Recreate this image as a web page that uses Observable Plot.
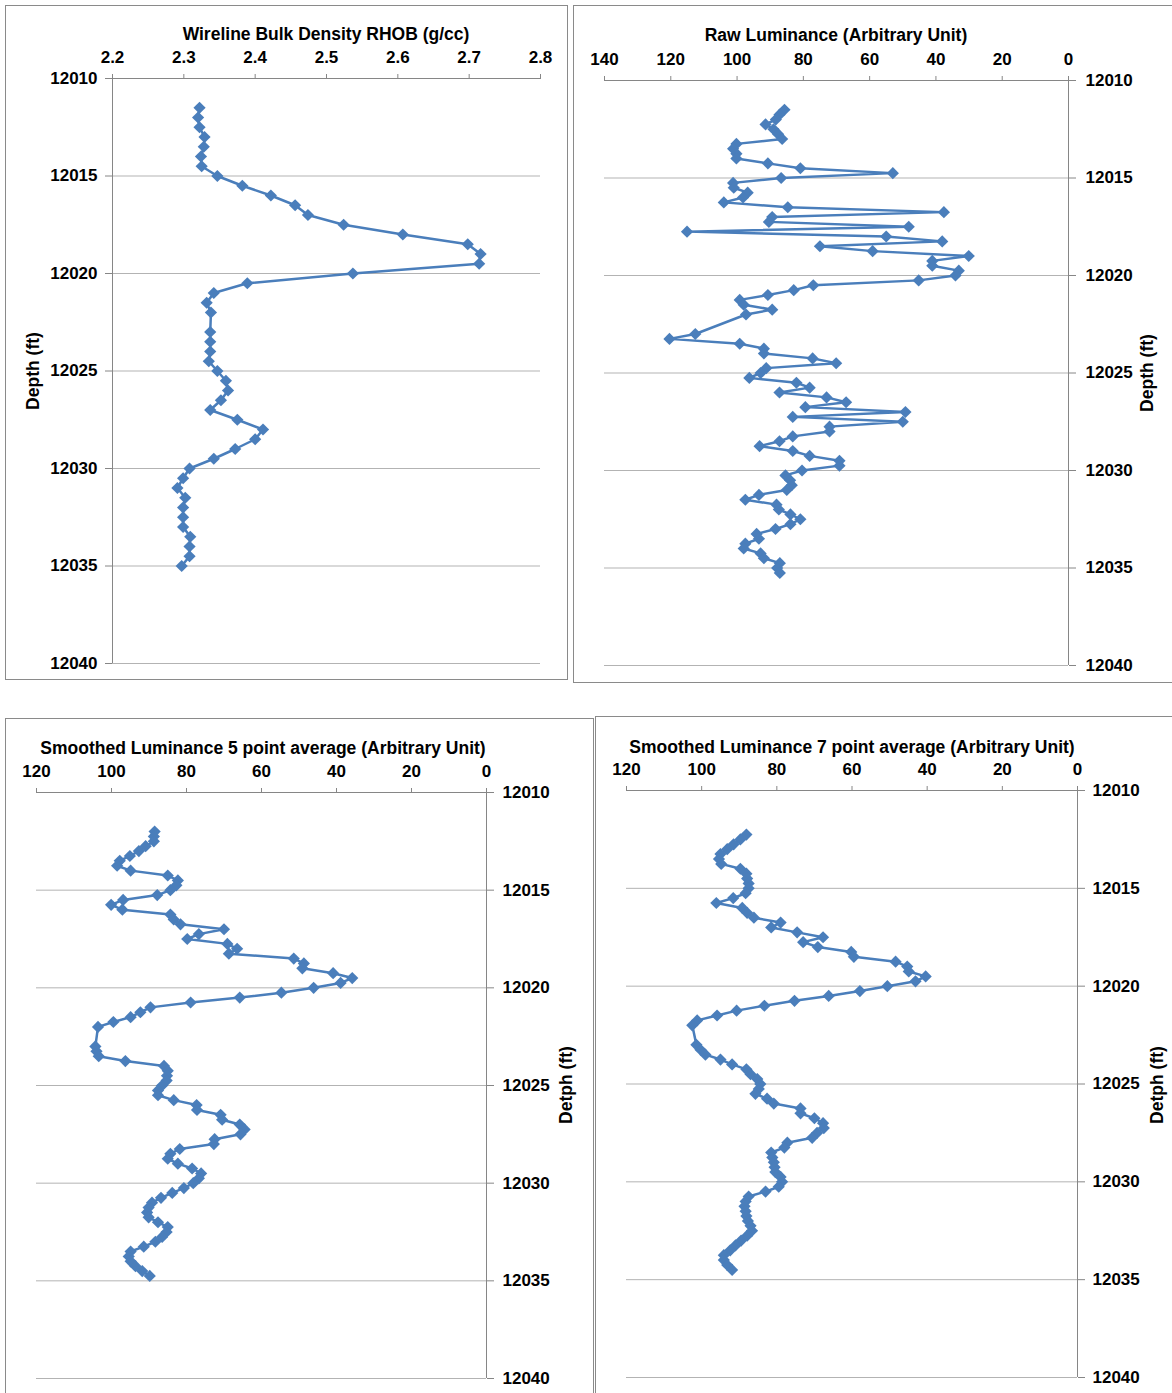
<!DOCTYPE html>
<html>
<head>
<meta charset="utf-8">
<script src="https://cdn.jsdelivr.net/npm/d3@7"></script>
<script src="https://cdn.jsdelivr.net/npm/@observablehq/plot@0.6"></script>
<style>
  html, body { margin: 0; padding: 0; background: #fff; }
  #page { position: relative; width: 1172px; height: 1393px; overflow: hidden; background: #fff;
          font-family: "Liberation Sans", Arial, sans-serif; }
  .box { position: absolute; border: 1.5px solid #8a8a8a; box-sizing: border-box; }
  .lbl { position: absolute; font-weight: bold; font-size: 17.5px; color: #000; white-space: pre;
         transform: translate(-50%, -50%); }
  .rot { transform: translate(-50%, -50%) rotate(-90deg); }
  svg.panel { position: absolute; left: 0; top: 0; overflow: visible; }
</style>
</head>
<body>
<div id="page"></div>
<script>
// ---------- data ----------
const depthTicks = [12010, 12015, 12020, 12025, 12030, 12035, 12040];
const rhobTicks = [2.2, 2.3, 2.4, 2.5, 2.6, 2.7, 2.8];
const rawTicks = [140, 120, 100, 80, 60, 40, 20, 0];
const smoothTicks = [120, 100, 80, 60, 40, 20, 0];

const titles = [
  "Wireline Bulk Density RHOB (g/cc)",
  "Raw Luminance (Arbitrary Unit)",
  "Smoothed Luminance 5 point average (Arbitrary Unit)",
  "Smoothed Luminance 7 point average (Arbitrary Unit)"
];
const depthLabels = ["Depth (ft)", "Depth (ft)", "Detph (ft)", "Detph (ft)"];

const rhobDepth = [12011.5, 12012, 12012.5, 12013, 12013.5, 12014, 12014.5, 12015, 12015.5, 12016, 12016.5, 12017,
  12017.5, 12018, 12018.5, 12019, 12019.5, 12020, 12020.5, 12021, 12021.5, 12022, 12023, 12023.5, 12024, 12024.5,
  12025, 12025.5, 12026, 12026.5, 12027, 12027.5, 12028, 12028.5, 12029, 12029.5, 12030, 12030.5, 12031, 12031.5,
  12032, 12032.5, 12033, 12033.5, 12034, 12034.5, 12035];
const rhobValue = [2.322, 2.320, 2.322, 2.329, 2.328, 2.324, 2.325, 2.347, 2.382, 2.422, 2.456, 2.474,
  2.524, 2.607, 2.698, 2.716, 2.714, 2.537, 2.389, 2.342, 2.332, 2.338, 2.337, 2.337, 2.337, 2.335,
  2.347, 2.359, 2.362, 2.352, 2.337, 2.375, 2.411, 2.400, 2.372, 2.342, 2.308, 2.299, 2.291, 2.302,
  2.299, 2.299, 2.299, 2.309, 2.308, 2.308, 2.297];

const rawDepth = [12011.5, 12011.75, 12012, 12012.25, 12012.5, 12012.75, 12013, 12013.25, 12013.5, 12013.75,
  12014, 12014.25, 12014.5, 12014.75, 12015, 12015.25, 12015.5, 12015.75, 12016, 12016.25,
  12016.5, 12016.75, 12017, 12017.25, 12017.5, 12017.75, 12018, 12018.25, 12018.5, 12018.75,
  12019, 12019.25, 12019.5, 12019.75, 12020, 12020.25, 12020.5, 12020.75, 12021, 12021.25,
  12021.5, 12021.75, 12022,
  12023, 12023.25, 12023.5, 12023.75, 12024, 12024.25, 12024.5,
  12024.75, 12025, 12025.25, 12025.5, 12025.75, 12026, 12026.25, 12026.5, 12026.75, 12027,
  12027.25, 12027.5, 12027.75, 12028, 12028.25, 12028.5, 12028.75, 12029, 12029.25, 12029.5,
  12029.75, 12030, 12030.25, 12030.5, 12030.75, 12031, 12031.25, 12031.5, 12031.75, 12032,
  12032.25, 12032.5, 12032.75, 12033, 12033.25, 12033.5, 12033.75, 12034, 12034.25, 12034.5,
  12034.75, 12035, 12035.25];
const rawValue = [85.7, 87.2, 88.3, 91.4, 89.0, 87.6, 86.4, 100.2, 101.2, 100.2,
  100.2, 90.7, 80.9, 53.0, 86.7, 101.2, 101.0, 96.8, 98.2, 104.0,
  84.7, 37.6, 89.4, 90.4, 48.2, 115.1, 55.0, 38.1, 75.0, 59.1,
  30.1, 41.1, 41.1, 33.1, 34.1, 45.2, 77.0, 82.9, 90.7, 99.2,
  98.0, 89.4, 97.3,
  112.6, 120.4, 99.2, 91.9, 91.9, 77.2, 70.1,
  91.2, 92.9, 96.3, 82.1, 78.1, 87.2, 73.0, 67.1, 79.4, 49.2,
  83.2, 50.0, 72.1, 72.1, 83.2, 87.2, 93.2, 83.2, 78.1, 69.1,
  69.1, 80.4, 85.4, 84.0, 83.5, 85.0, 93.4, 97.5, 88.1, 87.4,
  83.9, 80.9, 83.9, 88.4, 94.1, 93.4, 97.5, 98.0, 92.9, 91.9,
  87.1, 87.9, 87.1];

const avg5Depth = [12012, 12012.25, 12012.5, 12012.75, 12013, 12013.25, 12013.5, 12013.75, 12014, 12014.25,
  12014.5, 12014.75, 12015, 12015.25, 12015.5, 12015.75, 12016, 12016.25, 12016.5, 12016.75,
  12017, 12017.25, 12017.5, 12017.75, 12018, 12018.25, 12018.5, 12018.75, 12019, 12019.25,
  12019.5, 12019.75, 12020, 12020.25, 12020.5, 12020.75, 12021, 12021.25, 12021.5, 12021.75,
  12022,
  12023, 12023.25, 12023.5, 12023.75, 12024, 12024.25, 12024.5, 12024.75, 12025, 12025.25,
  12025.5, 12025.75, 12026, 12026.25, 12026.5, 12026.75, 12027, 12027.25, 12027.5, 12027.75,
  12028, 12028.25, 12028.5, 12028.75, 12029, 12029.25, 12029.5, 12029.75, 12030, 12030.25,
  12030.5, 12030.75, 12031, 12031.25, 12031.5, 12031.75, 12032, 12032.25, 12032.5, 12032.75,
  12033, 12033.25, 12033.5, 12033.75, 12034, 12034.25, 12034.5, 12034.75];
const avg5Value = [88.5, 88.7, 88.7, 90.9, 92.7, 95.1, 97.8, 98.5, 94.9, 85.0,
  82.3, 82.7, 84.3, 87.8, 96.9, 100.1, 97.1, 84.3, 83.4, 81.6,
  70.0, 76.7, 79.8, 69.1, 66.5, 68.7, 51.4, 48.7, 49.1, 40.9,
  35.8, 38.9, 46.1, 54.7, 65.8, 78.9, 89.6, 92.3, 94.9, 99.5,
  103.6,
  104.3, 104.0, 103.4, 96.3, 86.0, 85.0, 85.2, 85.3, 86.5, 87.6,
  87.6, 83.4, 77.3, 77.2, 70.9, 70.5, 65.8, 64.5, 65.6, 72.5,
  72.7, 81.8, 84.3, 85.0, 82.3, 78.5, 76.1, 76.7, 78.2, 80.7,
  83.8, 86.8, 89.2, 90.1, 90.5, 90.1, 87.6, 85.0, 85.3, 86.5,
  88.3, 91.4, 94.9, 95.4, 94.9, 93.6, 91.8, 89.8];

const avg7Depth = [12012.25, 12012.5, 12012.75, 12013, 12013.25, 12013.5, 12013.75, 12014, 12014.25, 12014.5,
  12014.75, 12015, 12015.25, 12015.5, 12015.75, 12016, 12016.25, 12016.5, 12016.75, 12017,
  12017.25, 12017.5, 12017.75, 12018, 12018.25, 12018.5, 12018.75, 12019, 12019.25, 12019.5,
  12019.75, 12020, 12020.25, 12020.5, 12020.75, 12021, 12021.25, 12021.5, 12021.75, 12022,
  12023, 12023.25, 12023.5, 12023.75, 12024, 12024.25, 12024.5, 12024.75, 12025, 12025.25,
  12025.5, 12025.75, 12026, 12026.25, 12026.5, 12026.75, 12027, 12027.25, 12027.5, 12027.75,
  12028, 12028.25, 12028.5, 12028.75, 12029, 12029.25, 12029.5, 12029.75, 12030, 12030.25,
  12030.5, 12030.75, 12031, 12031.25, 12031.5, 12031.75, 12032, 12032.25, 12032.5, 12032.75,
  12033, 12033.25, 12033.5, 12033.75, 12034, 12034.25, 12034.5];
const avg7Value = [88.1, 89.7, 91.5, 93.2, 95.0, 95.4, 94.8, 89.7, 88.1, 87.9,
  87.5, 87.5, 88.3, 91.6, 96.1, 89.2, 87.9, 86.1, 79.0, 81.5,
  74.6, 67.7, 73.0, 69.1, 60.2, 59.5, 48.4, 45.3, 44.9, 40.4,
  43.1, 50.6, 57.9, 66.2, 75.3, 83.3, 90.7, 95.9, 101.2, 102.5,
  101.4, 100.3, 99.0, 95.0, 91.9, 88.1, 87.0, 85.2, 84.4, 84.8,
  85.7, 82.6, 80.8, 73.7, 73.7, 70.0, 67.7, 67.5, 69.3, 70.6,
  77.2, 78.0, 81.5, 81.2, 80.8, 80.6, 80.4, 79.0, 78.6, 79.5,
  83.0, 87.5, 88.3, 88.6, 88.3, 88.1, 87.7, 87.0, 86.6, 87.9,
  89.5, 91.0, 92.4, 94.1, 94.1, 93.2, 91.9];

// ---------- layout ----------
const W = 1172, H = 1393;
const blue = "#4a7ebb", axisColor = "#868686", gridColor = "#b3b3b3";
const page = document.getElementById("page");

function addBox(l, t, w, h) {
  const d = document.createElement("div");
  d.className = "box";
  Object.assign(d.style, {left: l + "px", top: t + "px", width: w + "px", height: h + "px"});
  page.appendChild(d);
}
function addLabel(text, cx, cy, rotate) {
  const d = document.createElement("div");
  d.className = "lbl" + (rotate ? " rot" : "");
  d.textContent = text;
  Object.assign(d.style, {left: cx + "px", top: cy + "px"});
  page.appendChild(d);
}

addBox(5, 5, 563, 675);
addBox(573, 5, 640, 678);
addBox(5, 718, 589, 720);
addBox(595, 716, 640, 720);

function panel(cfg) {
  const data = cfg.depth.map((d, i) => ({d, v: cfg.value[i]}));
  const a = cfg.area;
  const svg = Plot.plot({
    width: W, height: H,
    marginLeft: a.left, marginRight: W - a.right, marginTop: a.top, marginBottom: H - a.bottom,
    x: {domain: cfg.xDomain, reverse: cfg.reverse},
    y: {domain: [12010, 12040], reverse: true},
    style: {fontFamily: "'Liberation Sans', Arial, sans-serif", fontSize: "17px", fontWeight: "bold", color: "#000", background: "transparent", overflow: "visible"},
    marks: [
      Plot.ruleY(depthTicks.slice(1), {stroke: gridColor, strokeWidth: 1}),
      Plot.ruleY([depthTicks[0]], {stroke: axisColor, strokeWidth: 1}),
      Plot.ruleX([cfg.yAxisAt], {stroke: axisColor, strokeWidth: 1}),
      Plot.axisX({anchor: "top", ticks: cfg.xTicks, tickFormat: cfg.xFormat, tickSize: 5, tickPadding: 11,
                  stroke: axisColor, fill: "#000", label: null}),
      Plot.axisY({anchor: cfg.yAnchor, ticks: depthTicks, tickFormat: d3.format("d"), tickSize: 7,
                  tickPadding: cfg.yPad, stroke: axisColor, fill: "#000", label: null}),
      Plot.line(data, {x: "v", y: "d", stroke: blue, strokeWidth: 2.5}),
      Plot.dot(data, {x: "v", y: "d", symbol: "diamond2", r: 5.5, fill: blue, stroke: "none"})
    ]
  });
  svg.classList.add("panel");
  page.appendChild(svg);
}

panel({depth: rhobDepth, value: rhobValue, xDomain: [2.2, 2.8], reverse: false, xTicks: rhobTicks,
       xFormat: d3.format(".1f"), yAnchor: "left", yAxisAt: 2.2, yPad: 8,
       area: {left: 112, right: 540, top: 78, bottom: 663}});
panel({depth: rawDepth, value: rawValue, xDomain: [0, 140], reverse: true, xTicks: rawTicks,
       xFormat: d3.format("d"), yAnchor: "right", yAxisAt: 0, yPad: 10,
       area: {left: 604, right: 1068, top: 80, bottom: 665}});
panel({depth: avg5Depth, value: avg5Value, xDomain: [0, 120], reverse: true, xTicks: smoothTicks,
       xFormat: d3.format("d"), yAnchor: "right", yAxisAt: 0, yPad: 9,
       area: {left: 36, right: 486, top: 792, bottom: 1378}});
panel({depth: avg7Depth, value: avg7Value, xDomain: [0, 120], reverse: true, xTicks: smoothTicks,
       xFormat: d3.format("d"), yAnchor: "right", yAxisAt: 0, yPad: 8,
       area: {left: 626, right: 1077, top: 790, bottom: 1377}});

addLabel(titles[0], 326, 34);
addLabel(titles[1], 836, 35);
addLabel(titles[2], 263, 748);
addLabel(titles[3], 852, 747);
addLabel(depthLabels[0], 33, 371, true);
addLabel(depthLabels[1], 1147, 373, true);
addLabel(depthLabels[2], 566, 1085, true);
addLabel(depthLabels[3], 1157, 1085, true);
</script>
</body>
</html>
